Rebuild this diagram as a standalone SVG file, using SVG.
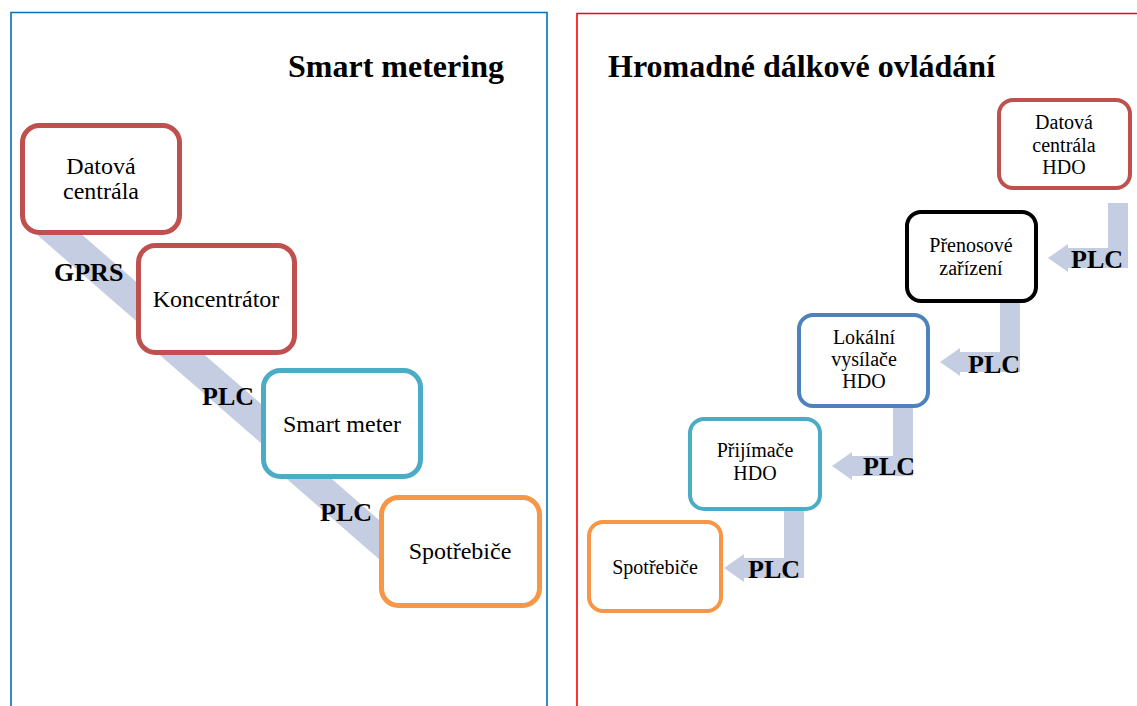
<svg xmlns="http://www.w3.org/2000/svg" width="1137" height="706" viewBox="0 0 1137 706">
  <style>
    .title { font-size: 32px; font-weight: bold; }
    .lbl { font-size: 26px; font-weight: bold; }
    .big { font-size: 24px; text-anchor: middle; }
    .small { font-size: 20px; text-anchor: middle; }
    .box { fill: #fff; }
    .l { stroke-width: 5; }
    .r { stroke-width: 4; }
    .band { fill: #C4CDE2; stroke: none; }
    .red { stroke: #C0504D; }
    .teal { stroke: #4BACC6; }
    .orange { stroke: #F79646; }
    .blue { stroke: #4F81BD; }
    .black { stroke: #000; }
  </style>

  <rect width="1137" height="706" fill="#fff"/>

  <!-- panel frames -->
  <g id="frames" fill="none">
    <path d="M11 706 V12.5 H547 V706" stroke="#0070C0" stroke-width="1.6"/>
    <path d="M577 706 V13.5 H1137" stroke="#FF0000" stroke-width="1.6"/>
  </g>

  <!-- connectors: diagonal bands (left) and bent arrows (right) -->
  <g id="connectors">
    <polygon class="band" points="25.8,225 70.8,225 191.6,330 146.6,330"/>
    <polygon class="band" points="148.2,345 193.2,345 314,450 269,450"/>
    <polygon class="band" points="274.2,468 319.2,468 442.3,575 397.3,575"/>

    <polygon class="band" points="1108,203 1128,203 1128,268 1068,268 1068,272 1048,258 1068,244 1068,248 1108,248"/>
    <polygon class="band" points="1000,303 1020,303 1020,372 960,372 960,376 940,362 960,348 960,352 1000,352"/>
    <polygon class="band" points="893,408 913,408 913,476 852,476 852,480 832,466 852,452 852,456 893,456"/>
    <polygon class="band" points="784,511 804,511 804,578 744,578 744,582 724,568 744,554 744,558 784,558"/>
  </g>

  <g font-family="Liberation Serif, DejaVu Serif, serif" fill="#000">
    <!-- link labels -->
    <g id="labels">
      <text class="lbl" x="54" y="281">GPRS</text>
      <text class="lbl" x="202" y="405">PLC</text>
      <text class="lbl" x="320" y="521">PLC</text>
      <text class="lbl" x="1071" y="268">PLC</text>
      <text class="lbl" x="968" y="373">PLC</text>
      <text class="lbl" x="863" y="475">PLC</text>
      <text class="lbl" x="748" y="578">PLC</text>
    </g>

    <!-- titles -->
    <g id="titles">
      <text class="title" x="288" y="77">Smart metering</text>
      <text class="title" x="608" y="77">Hromadné dálkové ovládání</text>
    </g>

    <!-- Smart metering chain -->
    <g id="sm-datova-centrala">
      <rect class="box l red" x="22.5" y="125.5" width="157" height="107" rx="17"/>
      <text class="big" x="101" y="174">Datová</text>
      <text class="big" x="101" y="199">centrála</text>
    </g>
    <g id="sm-koncentrator">
      <rect class="box l red" x="138.5" y="245.5" width="156" height="107" rx="17"/>
      <text class="big" x="216" y="307">Koncentrátor</text>
    </g>
    <g id="sm-smart-meter">
      <rect class="box l teal" x="263.5" y="370.5" width="157" height="106" rx="17"/>
      <text class="big" x="342" y="432">Smart meter</text>
    </g>
    <g id="sm-spotrebice">
      <rect class="box l orange" x="381.5" y="497.5" width="158" height="108" rx="17"/>
      <text class="big" x="460" y="559">Spotřebiče</text>
    </g>

    <!-- HDO chain -->
    <g id="hdo-datova-centrala">
      <rect class="box r red" x="999" y="100" width="131" height="88" rx="14"/>
      <text class="small" x="1064" y="129">Datová</text>
      <text class="small" x="1064" y="152">centrála</text>
      <text class="small" x="1064" y="174">HDO</text>
    </g>
    <g id="hdo-prenosove-zarizeni">
      <rect class="box r black" x="907" y="212" width="129" height="89" rx="14"/>
      <text class="small" x="971" y="252">Přenosové</text>
      <text class="small" x="971" y="275">zařízení</text>
    </g>
    <g id="hdo-lokalni-vysilace">
      <rect class="box r blue" x="799" y="315" width="129" height="91" rx="14"/>
      <text class="small" x="864" y="344">Lokální</text>
      <text class="small" x="864" y="366">vysílače</text>
      <text class="small" x="864" y="388">HDO</text>
    </g>
    <g id="hdo-prijimace">
      <rect class="box r teal" x="690" y="419" width="130" height="90" rx="14"/>
      <text class="small" x="755" y="457">Přijímače</text>
      <text class="small" x="755" y="480">HDO</text>
    </g>
    <g id="hdo-spotrebice">
      <rect class="box r orange" x="589" y="522" width="132" height="89" rx="14"/>
      <text class="small" x="655" y="574">Spotřebiče</text>
    </g>
  </g>
</svg>
